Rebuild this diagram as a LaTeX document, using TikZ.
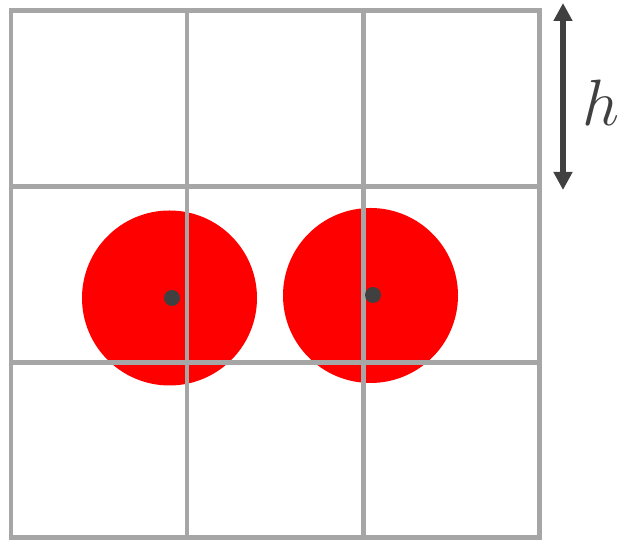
\documentclass[tikz,border=0pt]{standalone}
\usepackage{tikz}
\usetikzlibrary{arrows.meta}
\definecolor{GridGray}{RGB}{166,166,166}
\definecolor{DotGray}{RGB}{64,64,64}
\definecolor{BallRed}{RGB}{255,0,0}

\begin{document}
\begin{tikzpicture}[x=0.02cm,y=-0.02cm]
				
				\useasboundingbox (0,0) rectangle (620,543);
				
				% particles
				\fill[BallRed] (169.5,298) circle (87.5);
				\fill[BallRed] (370.5,295.5) circle (87.5);
				
				% grid
				\foreach \x in {11,187,363,539}
				\draw[GridGray,line width=0.1cm,line cap=rect] (\x,11) -- (\x,538);
				\foreach \y in {11,187,363,538}
				\draw[GridGray,line width=0.1cm,line cap=rect] (11,\y) -- (539,\y);
				
				% centres
				\node[circle,fill=DotGray,inner sep=0pt,minimum size=0.32cm] (L) at (172,298) {};
				\node[circle,fill=DotGray,inner sep=0pt,minimum size=0.32cm] (R) at (373,295) {};
				
				% cell size
				\coordinate (T) at (563,3);
				\coordinate (B) at (563,190);
				\draw[DotGray,line width=0.12cm,{Triangle[length=0.36cm,width=0.36cm]}-{Triangle[length=0.36cm,width=0.36cm]}] (T) -- (B);
				\node[DotGray,font=\fontsize{24}{24}\selectfont,scale=1.5] (H) at (601,103) {$h$};
				
			\end{tikzpicture}
\end{document}
